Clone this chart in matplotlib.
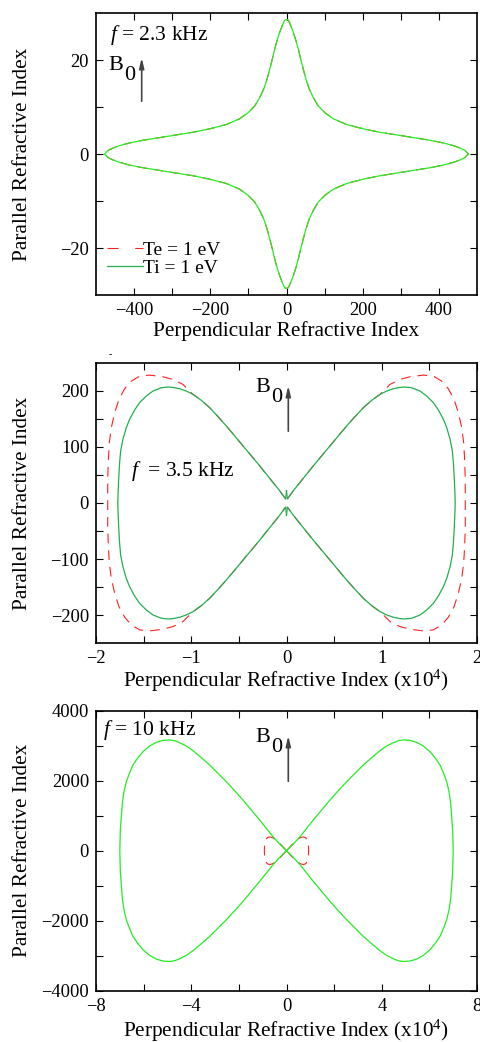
import matplotlib
matplotlib.use('Agg')
import matplotlib.pyplot as plt
from matplotlib.lines import Line2D
from matplotlib.patches import FancyArrowPatch
from matplotlib.transforms import IdentityTransform
import numpy as np

plt.rcParams['font.family'] = ['Liberation Serif', 'DejaVu Serif']
plt.rcParams['mathtext.fontset'] = 'custom'
plt.rcParams['mathtext.rm'] = 'Liberation Serif'
plt.rcParams['mathtext.it'] = 'Liberation Serif:italic'
plt.rcParams['lines.scale_dashes'] = False

# one quadrant of each curve (x >= 0, y >= 0), the rest is symmetric
# f = 2.3 kHz
q1_x = [0, 4.8, 9.2, 17.9, 24.9, 31.1, 37.2, 44.2, 51.2, 59.9, 70.4, 83.5, 101, 123, 158,
        202, 245, 289, 333, 377, 412, 438, 455, 468, 475, 478]
q1_y = [28.6, 28.45, 27.7, 25.9, 24.1, 22.3, 20.2, 18.0, 15.9, 13.8, 12.0, 10.2, 8.77, 7.49, 6.27,
        5.35, 4.63, 4.06, 3.49, 2.92, 2.35, 1.78, 1.28, 0.78, 0.21, 0]

# f = 3.5 kHz, x in units of 1e4
q2_ti_x = [0.0, 0.009, 0.072, 0.142, 0.212, 0.282, 0.369, 0.457, 0.544, 0.632, 0.719, 0.807,
           0.894, 0.982, 1.052, 1.122, 1.192, 1.244, 1.314, 1.402, 1.472, 1.542, 1.594, 1.647,
           1.682, 1.717, 1.741, 1.752, 1.762, 1.769, 1.771]
q2_ti_y = [22, 7.2, 22, 36.7, 51.5, 66.3, 84.1, 101.8, 119.6, 137.3, 153.9, 169.9,
           182.9, 193.6, 199.5, 203.6, 206.0, 206.6, 205.4, 199.5, 190.6, 178.8, 165.8, 149.2,
           134.4, 113.7, 93, 72.3, 42.7, 13.1, 0]
q2_te_x = [0.009, 0.072, 0.142, 0.212, 0.282, 0.369, 0.457, 0.544, 0.632, 0.719, 0.807, 0.894,
           0.982, 1.087, 1.192, 1.297, 1.437, 1.542, 1.629, 1.699, 1.759, 1.804, 1.839, 1.860,
           1.870, 1.877, 1.877]
q2_te_y = [7.2, 22, 36.7, 51.5, 66.3, 84.1, 101.8, 119.6, 137.3, 153.9, 169.9, 182.9,
           193.6, 211.3, 220.2, 224.9, 227.9, 226.1, 217.2, 203.6, 184.7, 161, 134.4, 107.8,
           78.2, 42.7, 0]

# f = 10 kHz, x in units of 1e4
q3_ti_x = [0, 0.287, 0.567, 0.847, 1.127, 1.477, 1.827, 2.177, 2.527, 2.877, 3.227, 3.577,
           3.927, 4.207, 4.487, 4.697, 4.907, 5.187, 5.467, 5.747, 6.027, 6.237, 6.447, 6.587,
           6.727, 6.825, 6.895, 6.937, 6.979, 6.993, 7.0]
q3_ti_y = [0, 191, 401, 639, 877, 1163, 1449, 1715, 1972, 2211, 2449, 2658,
           2858, 2991, 3087, 3144, 3165, 3153, 3096, 2991, 2829, 2658, 2449, 2229,
           1972, 1687, 1353, 972, 591, 210, 0]
q3_te_x = [0, 0.2, 0.4, 0.57, 0.7, 0.8, 0.88, 0.92, 0.93]
q3_te_y = [0, 150, 280, 370, 395, 375, 300, 180, 0]

RED = '#ff2020'
LIME = '#22ee22'
GREEN = '#20b050'
H = 1042


def star(x, y):
    x = np.asarray(x, float)
    y = np.asarray(y, float)
    xs = np.concatenate([x, x[::-1], -x, -x[::-1]])
    ys = np.concatenate([y, -y[::-1], -y, y[::-1]])
    return xs, ys


def lobe(x, y, side):
    x = np.asarray(x, float) * side
    y = np.asarray(y, float)
    return np.concatenate([x, x[::-1]]), np.concatenate([y, -y[::-1]])


def style_axes(ax, xlim, ylim, xt, xl, yt, yl):
    ax.set_xlim(xlim)
    ax.set_ylim(ylim)
    ax.set_xticks(xt)
    ax.set_xticklabels(xl)
    ax.set_yticks(yt)
    ax.set_yticklabels(yl)
    ax.tick_params(direction='in', top=True, right=True, length=5, width=0.8,
                   labelsize=13.3, pad=5)
    for s in ax.spines.values():
        s.set_linewidth(1.2)
    ax.set_ylabel('Parallel Refractive Index', fontsize=15.3)
    ax.yaxis.set_label_coords(-0.168, 0.5)


def b0(fig, xb, yb, xa, ya0, ya1):
    fig.text(xb / 480, 1 - yb / H, 'B', fontsize=16, va='baseline')
    fig.text((xb + 16) / 480, 1 - (yb + 10) / H, '0', fontsize=16, va='baseline')
    arr = FancyArrowPatch((xa, H - ya0), (xa, H - ya1), transform=IdentityTransform(),
                          arrowstyle='-|>,head_length=0.5,head_width=0.12',
                          color='#444444', lw=1.2, mutation_scale=12)
    fig.add_artist(arr)


def lab(v):
    return '%g' % v if v >= 0 else '\u2212%g' % -v


fig = plt.figure(figsize=(4.8, 10.42), dpi=100)
ax1 = fig.add_axes([0.2, 0.71689, 0.79375, 0.27063])
ax2 = fig.add_axes([0.2, 0.38263, 0.79375, 0.26929])
ax3 = fig.add_axes([0.2, 0.04923, 0.79375, 0.26871])

dash = dict(ls=(0, (7, 5)))

# top panel
sx, sy = star(q1_x, q1_y)
ax1.plot(sx, sy, color=RED, lw=0.8, **dash)
ax1.plot(sx, sy, color=LIME, lw=0.9)
xt = list(range(-400, 401, 100))
yt = [-20, -10, 0, 10, 20]
style_axes(ax1, (-500, 500), (-30, 30), xt, [lab(v) if v % 200 == 0 else '' for v in xt],
           yt, [lab(v) if v % 20 == 0 else '' for v in yt])
ax1.set_xlabel('Perpendicular Refractive Index', fontsize=15.3)
ax1.xaxis.set_label_coords(0.5, -0.092)
handles = [Line2D([], [], color=RED, lw=0.8, ls=(0, (8, 12))),
           Line2D([], [], color=GREEN, lw=0.9)]
ax1.legend(handles, ['Te = 1 eV', 'Ti = 1 eV'], loc='lower left', frameon=False,
           fontsize=14, handlelength=1.85, handletextpad=0.0, labelspacing=0.0,
           borderaxespad=0.0, borderpad=0.0, bbox_to_anchor=(0.028, 0.065))

# middle panel
for side in (1, -1):
    lx, ly = lobe(q2_te_x, q2_te_y, side)
    ax2.plot(lx, ly, color=RED, lw=0.8, **dash)
for side in (1, -1):
    lx, ly = lobe(q2_ti_x, q2_ti_y, side)
    ax2.plot(lx, ly, color=GREEN, lw=0.9)
xt = [-2, -1.5, -1, -0.5, 0, 0.5, 1, 1.5, 2]
yt = [-200, -150, -100, -50, 0, 50, 100, 150, 200]
style_axes(ax2, (-2, 2), (-250, 250), xt, [lab(v) if v == int(v) else '' for v in xt],
           yt, [lab(v) if v % 100 == 0 else '' for v in yt])
ax2.set_xlabel('Perpendicular Refractive Index (x10$^4$)', fontsize=15.3)
ax2.xaxis.set_label_coords(0.5, -0.088)

# bottom panel
for side in (1, -1):
    lx, ly = lobe(q3_te_x, q3_te_y, side)
    ax3.plot(lx, ly, color=RED, lw=0.8, **dash)
for side in (1, -1):
    lx, ly = lobe(q3_ti_x, q3_ti_y, side)
    ax3.plot(lx, ly, color=LIME, lw=0.9)
xt = [-8, -6, -4, -2, 0, 2, 4, 6, 8]
yt = [-4000, -3000, -2000, -1000, 0, 1000, 2000, 3000, 4000]
style_axes(ax3, (-8, 8), (-4000, 4000), xt, [lab(v) if v % 4 == 0 else '' for v in xt],
           yt, [lab(v) if v % 2000 == 0 else '' for v in yt])
ax3.set_xlabel('Perpendicular Refractive Index (x10$^4$)', fontsize=15.3)
ax3.xaxis.set_label_coords(0.5, -0.096)

# annotations
fig.text(110 / 480, 1 - 40 / H, '$f$ = 2.3 kHz', fontsize=15.5, va='baseline')
fig.text(131 / 480, 1 - 476 / H, '$f$  = 3.5 kHz', fontsize=15.5, va='baseline')
fig.text(103 / 480, 1 - 735 / H, '$f$ = 10 kHz', fontsize=15.5, va='baseline')
b0(fig, 108, 70, 141.7, 104, 55)
b0(fig, 255, 392, 288.3, 434, 383)
b0(fig, 255, 742, 288.3, 784, 733)
fig.text(109 / 480, 1 - 357 / H, '-', fontsize=7)

fig.savefig('out.png', dpi=100)
